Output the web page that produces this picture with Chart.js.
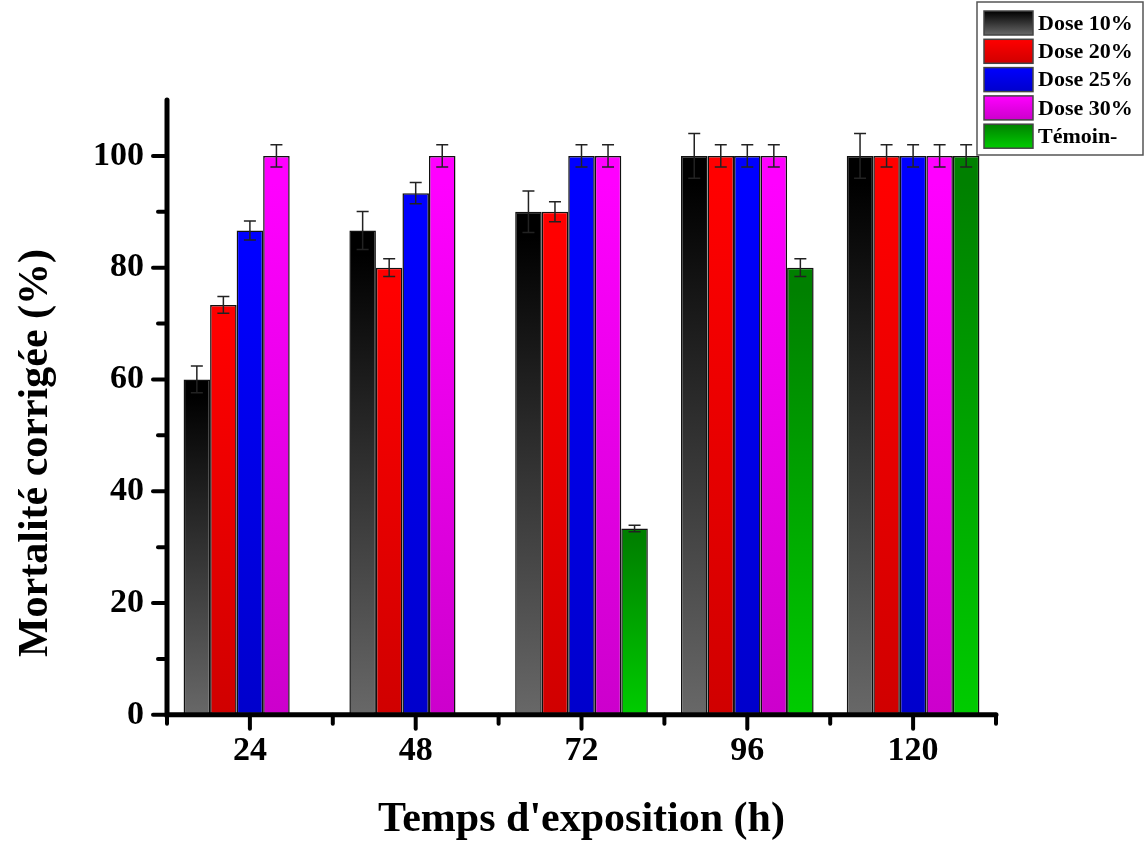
<!DOCTYPE html>
<html>
<head>
<meta charset="utf-8">
<script src="https://cdn.jsdelivr.net/npm/chart.js@4"></script>
<style>
  body { margin: 0; background: #fff; }
  #wrap { width: 1145px; height: 845px; }
</style>
</head>
<body>
<div id="wrap"><canvas id="bar-chart" width="1145" height="845"></canvas></div>
<script>
// data
const hours = ['24', '48', '72', '96', '120'];
const seriesNames = ['Dose 10%', 'Dose 20%', 'Dose 25%', 'Dose 30%', 'Témoin-'];
const dose10 = [60, 86.67, 90, 100, 100];
const dose20 = [73.33, 80, 90, 100, 100];
const dose25 = [86.67, 93.33, 100, 100, 100];
const dose30 = [100, 100, 100, 100, 100];
const temoin = [0, 0, 33.33, 80, 100];
const err10 = [2.4, 3.4, 3.7, 4, 4];
const err20 = [1.5, 1.6, 1.8, 2, 2];
const err25 = [1.7, 1.9, 2, 2, 2];
const err30 = [2, 2, 2, 2, 2];
const errTemoin = [0, 0, 0.6, 1.6, 2];
const yTicks = [0, 20, 40, 60, 80, 100];

// top colour, bottom colour
const grads = [
  ['#000000', '#686868'],
  ['#ff0000', '#d00000'],
  ['#0000ff', '#0000cc'],
  ['#ff00ff', '#cc00cc'],
  ['#008000', '#00cc00']
];

const serif = '"Liberation Serif", "Times New Roman", serif';

function barFill(ctx) {
  const chart = ctx.chart;
  const c = grads[ctx.datasetIndex];
  if (!chart.chartArea || ctx.type !== 'data') return c[0];
  const y = chart.scales.y;
  const top = y.getPixelForValue(ctx.raw);
  const bot = y.getPixelForValue(0);
  if (bot - top < 1) return c[0];
  const g = chart.ctx.createLinearGradient(0, top, 0, bot);
  g.addColorStop(0, c[0]);
  g.addColorStop(0.05, c[0]);
  g.addColorStop(1, c[1]);
  return g;
}

const errorBars = {
  id: 'errorBars',
  afterDatasetsDraw(chart) {
    const ctx = chart.ctx;
    const y = chart.scales.y;
    ctx.save();
    ctx.strokeStyle = '#222';
    ctx.lineWidth = 1.5;
    chart.data.datasets.forEach((ds, i) => {
      chart.getDatasetMeta(i).data.forEach((bar, j) => {
        const v = ds.data[j], e = ds.err[j];
        if (!v || !e) return;
        const t = y.getPixelForValue(v + e), b = y.getPixelForValue(v - e);
        ctx.beginPath();
        ctx.moveTo(bar.x, t); ctx.lineTo(bar.x, b);
        ctx.moveTo(bar.x - 6, t); ctx.lineTo(bar.x + 6, t);
        ctx.moveTo(bar.x - 6, b); ctx.lineTo(bar.x + 6, b);
        ctx.stroke();
      });
    });
    ctx.restore();
  }
};

// axis ticks: long majors, short minors, like the original plot
const axisTicks = {
  id: 'axisTicks',
  afterDraw(chart) {
    const ctx = chart.ctx;
    const x = chart.scales.x, y = chart.scales.y;
    const a = chart.chartArea;
    ctx.save();
    ctx.strokeStyle = '#000';
    ctx.lineWidth = 4;
    ctx.lineCap = 'round';
    for (let v = 0; v <= 100; v += 10) {
      const p = y.getPixelForValue(v);
      ctx.beginPath();
      ctx.moveTo(a.left, p);
      ctx.lineTo(a.left - (v % 20 === 0 ? 14 : 9), p);
      ctx.stroke();
    }
    const w = (a.right - a.left) / hours.length;
    for (let k = 0; k <= hours.length; k++) {
      const p = a.left + k * w;
      ctx.beginPath();
      ctx.moveTo(p, a.bottom); ctx.lineTo(p, a.bottom + 9);
      ctx.stroke();
    }
    hours.forEach((h, k) => {
      const p = x.getPixelForValue(k);
      ctx.beginPath();
      ctx.moveTo(p, a.bottom); ctx.lineTo(p, a.bottom + 14);
      ctx.stroke();
    });
    ctx.lineWidth = 5;
    ctx.beginPath();
    ctx.moveTo(a.left, a.top); ctx.lineTo(a.left, a.bottom);
    ctx.lineTo(a.right, a.bottom);
    ctx.stroke();

    // y title, sitting a little below the middle as in the original
    ctx.fillStyle = '#000';
    ctx.font = 'bold 42px ' + serif;
    ctx.textAlign = 'center';
    ctx.textBaseline = 'middle';
    ctx.translate(36, 453);
    ctx.rotate(-Math.PI / 2);
    ctx.fillText('Mortalité corrigée (%)', 0, 0);
    ctx.restore();
  }
};

const boxLegend = {
  id: 'boxLegend',
  afterDraw(chart) {
    const ctx = chart.ctx;
    ctx.save();
    ctx.fillStyle = '#fff';
    ctx.fillRect(977, 2, 166, 153);
    ctx.strokeStyle = '#555';
    ctx.lineWidth = 1.5;
    ctx.strokeRect(977, 2, 166, 153);
    ctx.font = 'bold 22px ' + serif;
    ctx.textBaseline = 'middle';
    seriesNames.forEach((name, i) => {
      const top = 11 + i * 28.3;
      const g = ctx.createLinearGradient(0, top, 0, top + 24);
      g.addColorStop(0, grads[i][0]);
      g.addColorStop(1, grads[i][1]);
      ctx.fillStyle = g;
      ctx.fillRect(984, top, 49, 24);
      ctx.strokeStyle = '#444';
      ctx.strokeRect(984, top, 49, 24);
      ctx.fillStyle = '#000';
      ctx.fillText(name, 1038, top + 13);
    });
    ctx.restore();
  }
};

const values = [dose10, dose20, dose25, dose30, temoin];
const errs = [err10, err20, err25, err30, errTemoin];

new Chart(document.getElementById('bar-chart'), {
  type: 'bar',
  data: {
    labels: hours,
    datasets: seriesNames.map((name, i) => ({
      label: name,
      data: values[i],
      err: errs[i],
      backgroundColor: barFill,
      borderColor: '#111',
      borderWidth: 1.5,
      borderSkipped: false,
      barPercentage: 1,
      categoryPercentage: 0.8
    }))
  },
  options: {
    responsive: false,
    animation: false,
    layout: { padding: { top: 100, right: 149, left: 84, bottom: 0 } },
    plugins: {
      legend: { display: false },
      tooltip: { enabled: false }
    },
    scales: {
      x: {
        grid: { display: true, drawOnChartArea: false, tickLength: 14, tickColor: 'transparent' },
        border: { display: false },
        ticks: { color: '#000', padding: 2, font: { family: serif, size: 34, weight: 'bold' } },
        title: {
          display: true, text: "Temps d'exposition (h)", color: '#000',
          padding: { top: 21, bottom: 0 },
          font: { family: serif, size: 42, weight: 'bold' }
        }
      },
      y: {
        min: 0, max: 110,
        grid: { display: true, drawOnChartArea: false, tickLength: 14, tickColor: 'transparent' },
        border: { display: false },
        afterBuildTicks(scale) { scale.ticks = yTicks.map(v => ({ value: v })); },
        ticks: { color: '#000', padding: 9, font: { family: serif, size: 34, weight: 'bold' } }
      }
    }
  },
  plugins: [errorBars, axisTicks, boxLegend]
});
</script>
</body>
</html>
